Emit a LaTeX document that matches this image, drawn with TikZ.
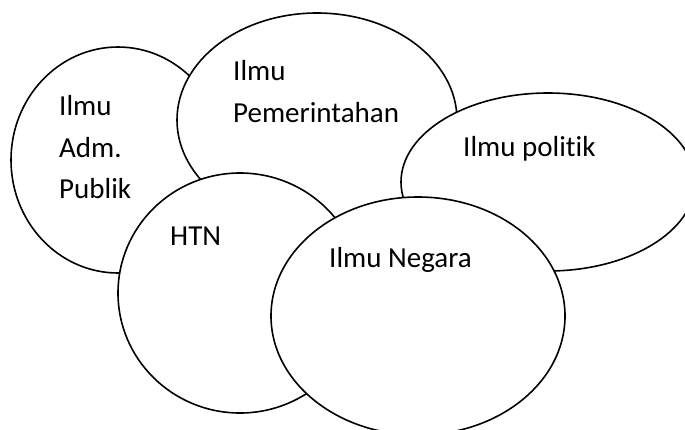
\documentclass[tikz,border=0pt]{standalone}
\usepackage{fontspec}
\setmainfont[Ligatures=NoCommon]{Carlito}
\begin{document}
\begin{tikzpicture}[x=1pt,y=-1pt,
  bubble/.style={draw=black,fill=white,line width=1.6pt},
  lbl/.style={anchor=base west,inner sep=0pt,font=\fontsize{29}{35}\selectfont}]
\useasboundingbox (0,0) rectangle (685,429);
\begin{scope}
\clip (0,0) rectangle (685,429);
\path[bubble] (118,160) ellipse [x radius=107, y radius=113];
\path[bubble] (317,120) ellipse [x radius=140, y radius=107];
\path[bubble] (548,182) ellipse [x radius=147, y radius=89];
\path[bubble] (240,293) ellipse [x radius=122, y radius=120];
\path[bubble] (418,316) ellipse [x radius=147, y radius=119];
\end{scope}
\node[lbl] (adm1) at (59,115) {Ilmu};
\node[lbl] (adm2) at (59,157) {Adm.};
\node[lbl] (adm3) at (59,198) {Publik};
\node[lbl] (pem1) at (233,80) {Ilmu};
\node[lbl] (pem2) at (233,122) {Pemerintahan};
\node[lbl] (pol) at (463,156) {Ilmu politik};
\node[lbl] (htn) at (170,245) {HTN};
\node[lbl] (neg) at (329,267) {Ilmu Negara};
\end{tikzpicture}
\end{document}
